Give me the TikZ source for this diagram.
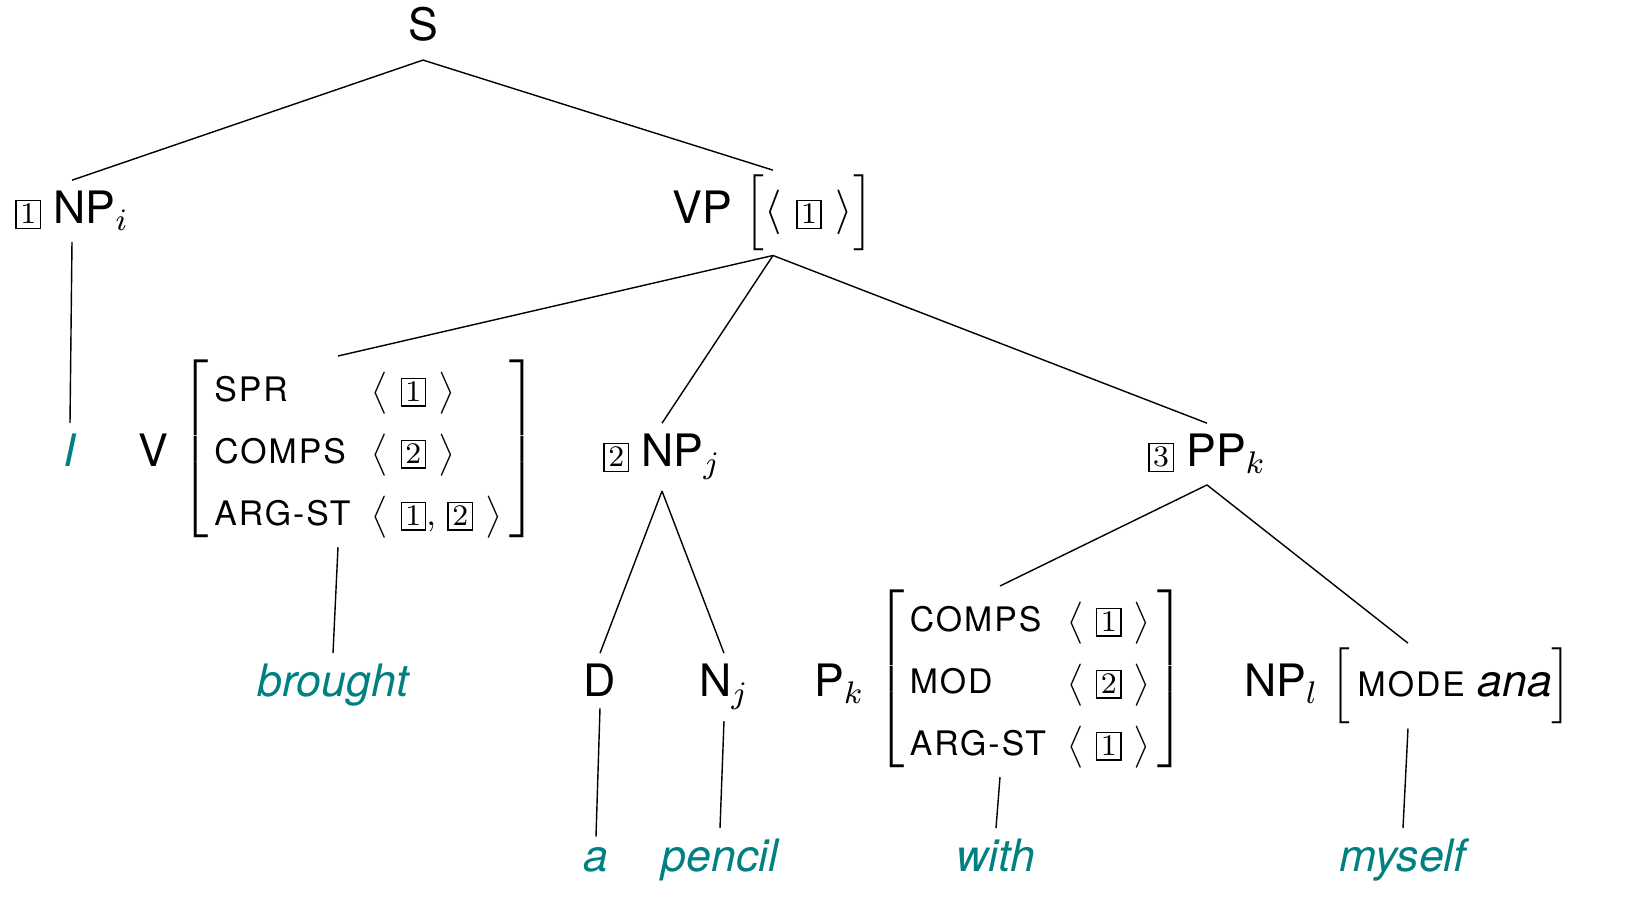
\RequirePackage{fix-cm}
\documentclass[tikz,border=0pt]{standalone}
\usepackage{amsmath}
\usepackage{fontspec}
\setmainfont{TeX Gyre Heros}
\usepackage{xcolor}
\usepackage{tikz}
\definecolor{wordteal}{RGB}{0,128,128}

\newcommand{\featfont}{\fontsize{9.6}{12}\selectfont\addfontfeature{LetterSpace=6}}
\newcommand{\tagnum}[1]{{\setlength{\fboxsep}{1pt}\setlength{\fboxrule}{0.4pt}\fbox{\fontsize{8.5}{8.5}\selectfont$#1$}}}
\newcommand{\avm}[1]{\raisebox{2pt}{$\left[\mbox{\featfont\renewcommand{\arraystretch}{1.47}\begin{tabular}{@{\hspace{1.5pt}}l@{\hspace{6pt}}l@{\hspace{2pt}}}#1\end{tabular}}\right]$}}
\newcommand{\lst}[1]{$\big\langle\hspace{3.5pt}#1\hspace{3.5pt}\big\rangle$}

\begin{document}
\begin{tikzpicture}[x=0.01cm,y=-0.01cm,
  every node/.style={anchor=base,inner sep=3pt,font=\fontsize{12.7}{15}\selectfont},
  fs/.style={inner sep=0.5pt},
  word/.style={text=wordteal,font=\fontsize{12.7}{15}\selectfont\itshape}]
  \useasboundingbox (0,0) rectangle (1633,916);

  \node[inner ysep=5pt] (s) at (423,41) {S};
  \node (np1) at (72,224) {\tagnum{1} NP$_i$};
  \node[fs] (vp) at (773,224) {VP $\Big[\langle\hspace{4pt}\tagnum{1}\hspace{4pt}\rangle\Big]$};

  \node[word] (w1) at (70,467) {I};
  \node[fs] (v) at (338,467) {V \avm{SPR & \lst{\tagnum{1}} \\
                                  COMPS & \lst{\tagnum{2}} \\
                                  ARG-ST & \lst{\tagnum{1},\,\tagnum{2}}}};
  \node (np2) at (662,467) {\tagnum{2} NP$_j$};
  \node (pp3) at (1207,467) {\tagnum{3} PP$_k$};

  \node[word] (w2) at (333,697) {brought};
  \node (d) at (600,697) {D};
  \node (n) at (724,697) {N$_j$};
  \node[fs] (p) at (1000,697) {P$_k$ \avm{COMPS & \lst{\tagnum{1}} \\
                                    MOD & \lst{\tagnum{2}} \\
                                    ARG-ST & \lst{\tagnum{1}}}};
  \node[fs] (npl) at (1408,697) {NP$_l$ $\Big[$\kern2pt{\featfont MODE} \textit{ana}$\Big]$};

  \node[word] (w3) at (596,872) {a};
  \node[word] (w4) at (720,872) {pencil};
  \node[word] (w5) at (996,872) {with};
  \node[word] (w6) at (1403,872) {myself};

  \draw (s.south) -- (np1.north);
  \draw (s.south) -- (vp.north);
  \draw (np1.south) -- (w1.north);
  \draw (vp.south) -- (v.north);
  \draw (vp.south) -- (np2.north);
  \draw (vp.south) -- (pp3.north);
  \draw (v.south) -- (w2.north);
  \draw (np2.south) -- (d.north);
  \draw (np2.south) -- (n.north);
  \draw (pp3.south) -- (p.north);
  \draw (pp3.south) -- (npl.north);
  \draw (d.south) -- (w3.north);
  \draw (n.south) -- (w4.north);
  \draw (p.south) -- (w5.north);
  \draw (npl.south) -- (w6.north);
\end{tikzpicture}
\end{document}
